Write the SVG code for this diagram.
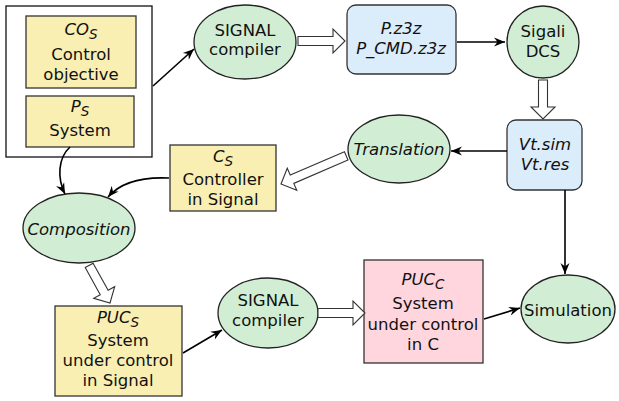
<svg xmlns="http://www.w3.org/2000/svg" width="619" height="401" viewBox="0 0 619 401">
<defs>
<style>
text{font-family:"DejaVu Sans","Liberation Sans",sans-serif;font-size:16.5px;fill:#111;text-anchor:middle}
.it{font-style:italic}
.sub{font-size:13.5px;font-style:italic}
.yel{fill:#f9efb3;stroke:#333;stroke-width:1.3}
.pink{fill:#ffd5de;stroke:#333;stroke-width:1.3}
.blue{fill:#dbecfb;stroke:#333;stroke-width:1.3}
.grn{fill:#d1eed4;stroke:#222;stroke-width:1.3}
.outer{fill:#fff;stroke:#111;stroke-width:1.3}
.con{fill:none;stroke:#000;stroke-width:1.6}
.hol{fill:#fff;stroke:#333;stroke-width:1.1;stroke-linejoin:miter}
</style>
<marker id="ah" viewBox="-12 -6 13 12" refX="0" refY="0" markerWidth="13" markerHeight="12" markerUnits="userSpaceOnUse" orient="auto">
<path d="M0,0 L-11,-4.5 L-7.5,0 L-11,4.5 Z" fill="#000"/>
</marker>
</defs>

<g id="outer-box">
<rect class="outer" x="6" y="6" width="146" height="151"/>
</g>
<g id="co-s">
<rect class="yel" x="26" y="16" width="110" height="72"/>
<text x="81" y="35" class="it">CO<tspan class="sub" dy="4">S</tspan></text>
<text x="81" y="60">Control</text>
<text x="81" y="80">objective</text>
</g>
<g id="p-s">
<rect class="yel" x="26" y="96" width="108" height="51"/>
<text x="80" y="112" class="it">P<tspan class="sub" dy="4">S</tspan></text>
<text x="80" y="136">System</text>
</g>
<g id="signal-compiler-1">
<ellipse class="grn" cx="245" cy="42" rx="51" ry="37"/>
<text x="245" y="36">SIGNAL</text>
<text x="245" y="55">compiler</text>
</g>
<g id="pz3z">
<rect class="blue" x="347" y="5" width="109" height="69" rx="9"/>
<text x="401" y="34" class="it">P.z3z</text>
<text x="401" y="54" class="it">P_CMD.z3z</text>
</g>
<g id="sigali">
<ellipse class="grn" cx="543" cy="42" rx="36" ry="36"/>
<text x="543" y="37">Sigali</text>
<text x="543" y="57">DCS</text>
</g>
<g id="vt">
<rect class="blue" x="507" y="120" width="75" height="70" rx="9"/>
<text x="545" y="150" class="it">Vt.sim</text>
<text x="545" y="170" class="it">Vt.res</text>
</g>
<g id="translation">
<ellipse class="grn" cx="399" cy="149" rx="51" ry="34"/>
<text x="399" y="155" class="it">Translation</text>
</g>
<g id="c-s">
<rect class="yel" x="170" y="145" width="106" height="66"/>
<text x="223" y="162" class="it">C<tspan class="sub" dy="4">S</tspan></text>
<text x="223" y="185">Controller</text>
<text x="223" y="205">in Signal</text>
</g>
<g id="composition">
<ellipse class="grn" cx="79" cy="228" rx="56" ry="35"/>
<text x="79" y="235" class="it">Composition</text>
</g>
<g id="puc-s">
<rect class="yel" x="55" y="306" width="127" height="90"/>
<text x="118" y="323" class="it">PUC<tspan class="sub" dy="4">S</tspan></text>
<text x="118" y="346">System</text>
<text x="118" y="366">under control</text>
<text x="118" y="386">in Signal</text>
</g>
<g id="signal-compiler-2">
<ellipse class="grn" cx="268" cy="313" rx="50" ry="35"/>
<text x="268" y="306">SIGNAL</text>
<text x="268" y="326">compiler</text>
</g>
<g id="puc-c">
<rect class="pink" x="364" y="260" width="119" height="103"/>
<text x="423" y="285" class="it">PUC<tspan class="sub" dy="4">C</tspan></text>
<text x="423" y="309">System</text>
<text x="423" y="330">under control</text>
<text x="423" y="350">in C</text>
</g>
<g id="simulation">
<ellipse class="grn" cx="568" cy="309" rx="47" ry="34"/>
<text x="568" y="316">Simulation</text>
</g>

<g id="connectors">
<path class="con" d="M153,86 L194,49" marker-end="url(#ah)"/>
<path class="con" d="M457,42 L505,42" marker-end="url(#ah)"/>
<path class="con" d="M507,151 L451,151" marker-end="url(#ah)"/>
<path class="con" d="M565,190 L565,274" marker-end="url(#ah)"/>
<path class="con" d="M169,178 Q126,176 108,197" marker-end="url(#ah)"/>
<path class="con" d="M70,147 C58,158 57,178 65,194" marker-end="url(#ah)"/>
<path class="con" d="M183,353 L222,330" marker-end="url(#ah)"/>
<path class="con" d="M484,319 L520,308" marker-end="url(#ah)"/>
<path class="hol" d="M298,36.5 L333,36.5 L333,29 L345,41 L333,53 L333,45.5 L298,45.5 Z"/>
<path class="hol" d="M318,308.5 L353,308.5 L353,301 L365,313 L353,325 L353,317.5 L318,317.5 Z"/>
<path class="hol" d="M538.5,80 L538.5,107 L531,107 L543,119 L555,107 L547.5,107 L547.5,80 Z"/>
<path class="hol" transform="translate(281,184) rotate(-23.3)" d="M71,-4.5 L12,-4.5 L12,-12 L0,0 L12,12 L12,4.5 L71,4.5 Z"/>
<path class="hol" transform="translate(110,303) rotate(61)" d="M-43,-4.5 L-12,-4.5 L-12,-12 L0,0 L-12,12 L-12,4.5 L-43,4.5 Z"/>
</g>
</svg>
